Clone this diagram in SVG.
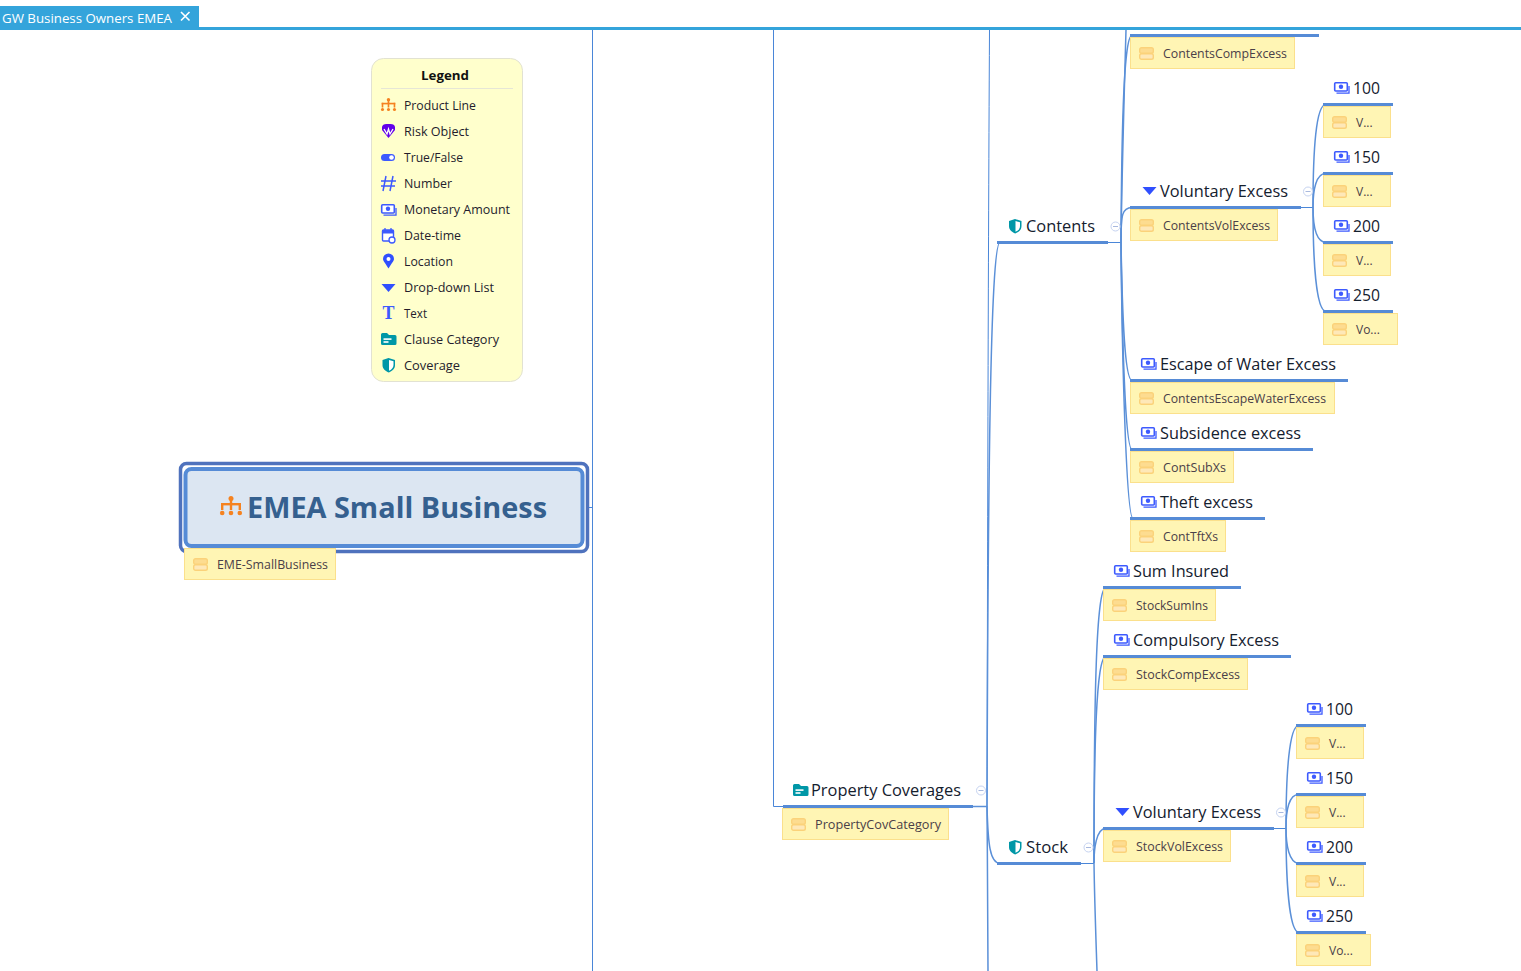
<svg xmlns="http://www.w3.org/2000/svg" xmlns:xlink="http://www.w3.org/1999/xlink" width="1521" height="971" viewBox="0 0 1521 971">
<style>
text{font-family:"Open Sans","Noto Sans","Liberation Sans",sans-serif}
.n{font-size:16.5px;fill:#14202e}
.t{font-size:12px;fill:#4a4048}
.l{font-size:12px;fill:#241c2c}
.tag{fill:#fff5b4;stroke:#fbe08c;stroke-width:1}
.bar{fill:none;stroke:#568bd6;stroke-width:3}
.c{fill:none;stroke:#5b90d8;stroke-width:1.5}
.v{fill:none;stroke:#4a86d8;stroke-width:1}
.col{fill:#fff;stroke:#c6d3f1;stroke-width:1}
.cold{stroke:#a8b8de;stroke-width:1}
</style>
<defs>
<g id="ti" fill="#fee8b8" stroke="#fbd27a" stroke-width="1.400"><rect x="0.700" y="0.700" width="13.600" height="5.600" rx="1.800" fill="#fddc90"/><rect x="0.700" y="6.700" width="13.600" height="5.600" rx="1.800"/></g>
<g id="money"><rect x="0.700" y="0.700" width="12.600" height="8.300" rx="1" fill="#fff" stroke="#3d5afe" stroke-width="1.600"/><circle cx="7" cy="4.800" r="2.200" fill="#3d5afe"/><path d="M2.500 11.200H15V4" fill="none" stroke="#3d5afe" stroke-width="1.300"/></g>
<path id="tri" d="M0 0H14L7 8Z" fill="#304ffe"/>
<g id="shield"><path d="M6 0L12.500 2V7C12.500 11 9.500 13 6.200 14.500C3 13 0 11 0 7V2Z" fill="#0097a7"/><path d="M6.500 2L11 3.200V7C11 9.600 9.400 11.400 6.500 12.700Z" fill="#fff"/></g>
<g id="folder"><path d="M0 1.500Q0 0 1.500 0H6L8 2H14Q15.500 2 15.500 3.500V10.500Q15.500 12 14 12H1.500Q0 12 0 10.500Z" fill="#0097a7"/><rect x="2.500" y="5.300" width="8" height="1.600" fill="#fff"/><rect x="2.500" y="8.200" width="5" height="1.600" fill="#fff"/></g>
<g id="pl" fill="#f58220"><circle cx="11" cy="2.500" r="2.500"/><rect x="9.800" y="2.500" width="2.400" height="5"/><rect x="1" y="7" width="20" height="2.400"/><rect x="1" y="7" width="2.400" height="7"/><rect x="9.800" y="7" width="2.400" height="7"/><rect x="18.600" y="7" width="2.400" height="7"/><circle cx="2.200" cy="17" r="2.300"/><circle cx="11" cy="17" r="2.300"/><circle cx="19.800" cy="17" r="2.300"/></g>
</defs>

<g id="tabbar">
<rect x="0" y="6" width="199" height="22" fill="#34a4db"/>
<rect x="0" y="27" width="1521" height="3" fill="#34a4db"/>
<text x="2" y="23" font-size="13.500" fill="#fff" textLength="170" lengthAdjust="spacingAndGlyphs">GW Business Owners EMEA</text>
<path d="M181 12L189.500 20.500M189.500 12L181 20.500" stroke="#fff" stroke-width="1.600"/>
</g>

<g id="connectors">
<path class="v" d="M592.500 30V971"/>
<path class="v" d="M583 507.500H592"/>
<path class="v" d="M773.500 30V806.500H783"/>
<path class="c" d="M973 806.500H987"/>
<path class="v" d="M989.500 30C988 300 987.500 600 987 806"/>
<path class="c" d="M987 806C987.300 860 988 900 988 971"/>
<path class="c" d="M987 806C988 500 990 242 1000 242.500"/>
<path class="c" d="M987 806C988 845 990 863 1000 863.500"/>
<path class="v" d="M1108 242.500H1121"/>
<path class="v" d="M1081 863.500H1094"/>
<path class="c" d="M1121 242C1121.500 150 1123 35 1132 35.500"/>
<path class="c" d="M1126 30C1124 100 1122 170 1121 242"/>
<path class="c" d="M1121 242C1121 215 1122 207.500 1132 207.500"/>
<path class="c" d="M1121 242C1122 300 1124 380 1132 380.500"/>
<path class="c" d="M1121 242C1122 330 1125 449 1132 449.500"/>
<path class="c" d="M1121 242C1122 350 1126 518 1133 518.500"/>
<path class="v" d="M1301 207.500H1313"/>
<path class="c" d="M1313 207C1313 150 1316 104 1326 104.500"/>
<path class="c" d="M1313 207C1313 190 1316 173 1326 173.500"/>
<path class="c" d="M1313 207C1313 225 1316 242 1326 242.500"/>
<path class="c" d="M1313 207C1313 260 1316 311 1326 311.500"/>
<path class="c" d="M1094 863C1094 700 1096 587 1106 587.500"/>
<path class="c" d="M1094 863C1094 750 1096 656 1106 656.500"/>
<path class="c" d="M1094 863C1094 850 1096 828 1106 828.500"/>
<path class="c" d="M1094 863C1094.500 900 1096 940 1097 971"/>
<path class="v" d="M1274 828.500H1286"/>
<path class="c" d="M1286 828C1286 775 1289 725 1299 725.500"/>
<path class="c" d="M1286 828C1286 810 1289 794 1299 794.500"/>
<path class="c" d="M1286 828C1286 845 1289 863 1299 863.500"/>
<path class="c" d="M1286 828C1286 880 1289 932 1299 932.500"/>
</g>

<g id="legend">
<rect x="371.500" y="58.500" width="151" height="323" rx="12" fill="#ffffcc" stroke="#e2e2d2"/>
<text x="421" y="80" font-size="13" font-weight="700" fill="#111" textLength="48" lengthAdjust="spacingAndGlyphs">Legend</text>
<path d="M381 88.500H513" stroke="#e6e6d6"/>
<use href="#pl" transform="translate(381,98) scale(.68)"/><text class="l" x="404" y="110" textLength="72" lengthAdjust="spacingAndGlyphs">Product Line</text>
<g transform="translate(381.500,124)"><path d="M7 14L0.500 6L0.500 3Q1 0 5 0H9Q13 0 13.500 3L13.500 6Z" fill="#6200ea"/><path d="M2.500 5L5.500 10L7 5L8.500 10L11.500 5" fill="none" stroke="#fff" stroke-width="1.300"/></g><text class="l" x="404" y="136" textLength="65" lengthAdjust="spacingAndGlyphs">Risk Object</text>
<g><rect x="381" y="154" width="14" height="7" rx="3.500" fill="#3d5afe"/><circle cx="391.500" cy="157.500" r="2.300" fill="#fff"/></g><text class="l" x="404" y="162" textLength="59" lengthAdjust="spacingAndGlyphs">True/False</text>
<path d="M386 176L383 191M393 176L390 191M381 181H396M381 186H395" stroke="#3d5afe" stroke-width="1.500" fill="none"/><text class="l" x="404" y="188" textLength="48" lengthAdjust="spacingAndGlyphs">Number</text>
<use href="#money" x="381" y="204"/><text class="l" x="404" y="214" textLength="106" lengthAdjust="spacingAndGlyphs">Monetary Amount</text>
<g><rect x="382.500" y="230" width="11" height="11" rx="1" fill="#fff" stroke="#3d5afe" stroke-width="1.400"/><rect x="382" y="230" width="12" height="3.500" fill="#3d5afe"/><path d="M385 228V231M391 228V231" stroke="#3d5afe" stroke-width="1.300"/><circle cx="392" cy="240" r="3" fill="#fff" stroke="#3d5afe" stroke-width="1.300"/></g><text class="l" x="404" y="240" textLength="57" lengthAdjust="spacingAndGlyphs">Date-time</text>
<path d="M388.500 268.500C386 264 383 261 383 259A5.500 5.500 0 0 1 394 259C394 261 391 264 388.500 268.500Z" fill="#304ffe"/><circle cx="388.500" cy="259" r="2" fill="#fff"/><text class="l" x="404" y="266" textLength="49" lengthAdjust="spacingAndGlyphs">Location</text>
<use href="#tri" x="381.500" y="284"/><text class="l" x="404" y="292" textLength="90" lengthAdjust="spacingAndGlyphs">Drop-down List</text>
<text x="382.500" y="319" font-size="18" font-weight="700" fill="#3d5afe" style="font-family:'Liberation Serif',serif">T</text><text class="l" x="404" y="318" textLength="23" lengthAdjust="spacingAndGlyphs">Text</text>
<use href="#folder" transform="translate(381,333)"/><text class="l" x="404" y="344" textLength="95" lengthAdjust="spacingAndGlyphs">Clause Category</text>
<use href="#shield" x="382.500" y="358"/><text class="l" x="404" y="370" textLength="56" lengthAdjust="spacingAndGlyphs">Coverage</text>
</g>

<g id="root">
<rect x="180.500" y="463.500" width="407" height="88" rx="6" fill="#fff" stroke="#4f72bd" stroke-width="3.500"/>
<rect x="185.500" y="469" width="397" height="77" rx="6" fill="#dce6f2" stroke="#568bd6" stroke-width="4"/>
<use href="#pl" transform="translate(220,496)"/>
<text x="247" y="518" font-size="29" font-weight="700" fill="#35608f" textLength="300" lengthAdjust="spacingAndGlyphs">EMEA Small Business</text>
<rect class="tag" x="184.500" y="548.500" width="151" height="31"/>
<use href="#ti" x="193" y="558"/>
<text class="t" x="217" y="569" textLength="111" lengthAdjust="spacingAndGlyphs">EME-SmallBusiness</text>
</g>

<g id="property-coverages">
<use href="#folder" transform="translate(793,784)"/>
<text class="n" x="811" y="796" textLength="150" lengthAdjust="spacingAndGlyphs">Property Coverages</text>
<path class="bar" d="M783 806.500H973"/>
<circle class="col" cx="981" cy="790.500" r="4.500"/><path class="cold" d="M978.500 790.500H983.500"/>
<rect class="tag" x="782.500" y="808.500" width="166" height="31"/>
<use href="#ti" x="791" y="818"/>
<text class="t" x="815" y="829" textLength="126" lengthAdjust="spacingAndGlyphs">PropertyCovCategory</text>
</g>

<g id="contents">
<use href="#shield" x="1009" y="219"/>
<text class="n" x="1026" y="232" textLength="69" lengthAdjust="spacingAndGlyphs">Contents</text>
<path class="bar" d="M997 242.500H1108"/>
<circle class="col" cx="1115.500" cy="226.500" r="4.500"/><path class="cold" d="M1113 226.500H1118"/>
</g>

<g id="contents-comp-excess">
<path class="bar" d="M1130 35.500H1319"/>
<rect class="tag" x="1130.500" y="37.500" width="164" height="31"/>
<use href="#ti" x="1139" y="47"/>
<text class="t" x="1163" y="58" textLength="124" lengthAdjust="spacingAndGlyphs">ContentsCompExcess</text>
</g>

<g id="contents-vol-excess">
<use href="#tri" x="1142.500" y="187"/>
<text class="n" x="1160" y="197" textLength="128" lengthAdjust="spacingAndGlyphs">Voluntary Excess</text>
<path class="bar" d="M1130 207.500H1301"/>
<circle class="col" cx="1308" cy="191.500" r="4.500"/><path class="cold" d="M1305.500 191.500H1310.500"/>
<rect class="tag" x="1130.500" y="209.500" width="147" height="31"/>
<use href="#ti" x="1139" y="219"/>
<text class="t" x="1163" y="230" textLength="107" lengthAdjust="spacingAndGlyphs">ContentsVolExcess</text>
</g>

<g id="cv-100"><use href="#money" x="1334" y="82"/><text class="n" x="1353" y="94" textLength="27" lengthAdjust="spacingAndGlyphs">100</text><path class="bar" d="M1323 104.500H1393"/><rect class="tag" x="1323.500" y="106.500" width="67" height="31"/><use href="#ti" x="1332" y="116"/><text class="t" x="1356" y="127">V...</text></g>
<g id="cv-150"><use href="#money" x="1334" y="151"/><text class="n" x="1353" y="163" textLength="27" lengthAdjust="spacingAndGlyphs">150</text><path class="bar" d="M1323 173.500H1393"/><rect class="tag" x="1323.500" y="175.500" width="67" height="31"/><use href="#ti" x="1332" y="185"/><text class="t" x="1356" y="196">V...</text></g>
<g id="cv-200"><use href="#money" x="1334" y="220"/><text class="n" x="1353" y="232" textLength="27" lengthAdjust="spacingAndGlyphs">200</text><path class="bar" d="M1323 242.500H1393"/><rect class="tag" x="1323.500" y="244.500" width="67" height="31"/><use href="#ti" x="1332" y="254"/><text class="t" x="1356" y="265">V...</text></g>
<g id="cv-250"><use href="#money" x="1334" y="289"/><text class="n" x="1353" y="301" textLength="27" lengthAdjust="spacingAndGlyphs">250</text><path class="bar" d="M1323 311.500H1393"/><rect class="tag" x="1323.500" y="313.500" width="74" height="31"/><use href="#ti" x="1332" y="323"/><text class="t" x="1356" y="334">Vo...</text></g>

<g id="contents-escape"><use href="#money" x="1141" y="358"/><text class="n" x="1160" y="370" textLength="176" lengthAdjust="spacingAndGlyphs">Escape of Water Excess</text><path class="bar" d="M1130 380.500H1348"/><rect class="tag" x="1130.500" y="382.500" width="204" height="31"/><use href="#ti" x="1139" y="392"/><text class="t" x="1163" y="403" textLength="163" lengthAdjust="spacingAndGlyphs">ContentsEscapeWaterExcess</text></g>
<g id="contents-subsidence"><use href="#money" x="1141" y="427"/><text class="n" x="1160" y="439" textLength="141" lengthAdjust="spacingAndGlyphs">Subsidence excess</text><path class="bar" d="M1130 449.500H1313"/><rect class="tag" x="1130.500" y="451.500" width="103" height="31"/><use href="#ti" x="1139" y="461"/><text class="t" x="1163" y="472" textLength="63" lengthAdjust="spacingAndGlyphs">ContSubXs</text></g>
<g id="contents-theft"><use href="#money" x="1141" y="496"/><text class="n" x="1160" y="508" textLength="93" lengthAdjust="spacingAndGlyphs">Theft excess</text><path class="bar" d="M1130 518.500H1265"/><rect class="tag" x="1130.500" y="520.500" width="95" height="31"/><use href="#ti" x="1139" y="530"/><text class="t" x="1163" y="541" textLength="55" lengthAdjust="spacingAndGlyphs">ContTftXs</text></g>

<g id="stock">
<use href="#shield" x="1009" y="840"/>
<text class="n" x="1026" y="853" textLength="42" lengthAdjust="spacingAndGlyphs">Stock</text>
<path class="bar" d="M997 863.500H1081"/>
<circle class="col" cx="1088.500" cy="847.500" r="4.500"/><path class="cold" d="M1086 847.500H1091"/>
</g>

<g id="stock-sum"><use href="#money" x="1114" y="565"/><text class="n" x="1133" y="577" textLength="96" lengthAdjust="spacingAndGlyphs">Sum Insured</text><path class="bar" d="M1103 587.500H1241"/><rect class="tag" x="1103.500" y="589.500" width="112" height="31"/><use href="#ti" x="1112" y="599"/><text class="t" x="1136" y="610" textLength="72" lengthAdjust="spacingAndGlyphs">StockSumIns</text></g>
<g id="stock-comp"><use href="#money" x="1114" y="634"/><text class="n" x="1133" y="646" textLength="146" lengthAdjust="spacingAndGlyphs">Compulsory Excess</text><path class="bar" d="M1103 656.500H1291"/><rect class="tag" x="1103.500" y="658.500" width="144" height="31"/><use href="#ti" x="1112" y="668"/><text class="t" x="1136" y="679" textLength="104" lengthAdjust="spacingAndGlyphs">StockCompExcess</text></g>
<g id="stock-vol">
<use href="#tri" x="1115.500" y="808"/>
<text class="n" x="1133" y="818" textLength="128" lengthAdjust="spacingAndGlyphs">Voluntary Excess</text>
<path class="bar" d="M1103 828.500H1274"/>
<circle class="col" cx="1281" cy="812.500" r="4.500"/><path class="cold" d="M1278.500 812.500H1283.500"/>
<rect class="tag" x="1103.500" y="830.500" width="127" height="31"/>
<use href="#ti" x="1112" y="840"/>
<text class="t" x="1136" y="851" textLength="87" lengthAdjust="spacingAndGlyphs">StockVolExcess</text>
</g>

<g id="sv-100"><use href="#money" x="1307" y="703"/><text class="n" x="1326" y="715" textLength="27" lengthAdjust="spacingAndGlyphs">100</text><path class="bar" d="M1296 725.500H1366"/><rect class="tag" x="1296.500" y="727.500" width="67" height="31"/><use href="#ti" x="1305" y="737"/><text class="t" x="1329" y="748">V...</text></g>
<g id="sv-150"><use href="#money" x="1307" y="772"/><text class="n" x="1326" y="784" textLength="27" lengthAdjust="spacingAndGlyphs">150</text><path class="bar" d="M1296 794.500H1366"/><rect class="tag" x="1296.500" y="796.500" width="67" height="31"/><use href="#ti" x="1305" y="806"/><text class="t" x="1329" y="817">V...</text></g>
<g id="sv-200"><use href="#money" x="1307" y="841"/><text class="n" x="1326" y="853" textLength="27" lengthAdjust="spacingAndGlyphs">200</text><path class="bar" d="M1296 863.500H1366"/><rect class="tag" x="1296.500" y="865.500" width="67" height="31"/><use href="#ti" x="1305" y="875"/><text class="t" x="1329" y="886">V...</text></g>
<g id="sv-250"><use href="#money" x="1307" y="910"/><text class="n" x="1326" y="922" textLength="27" lengthAdjust="spacingAndGlyphs">250</text><path class="bar" d="M1296 932.500H1366"/><rect class="tag" x="1296.500" y="934.500" width="74" height="31"/><use href="#ti" x="1305" y="944"/><text class="t" x="1329" y="955">Vo...</text></g>
</svg>
